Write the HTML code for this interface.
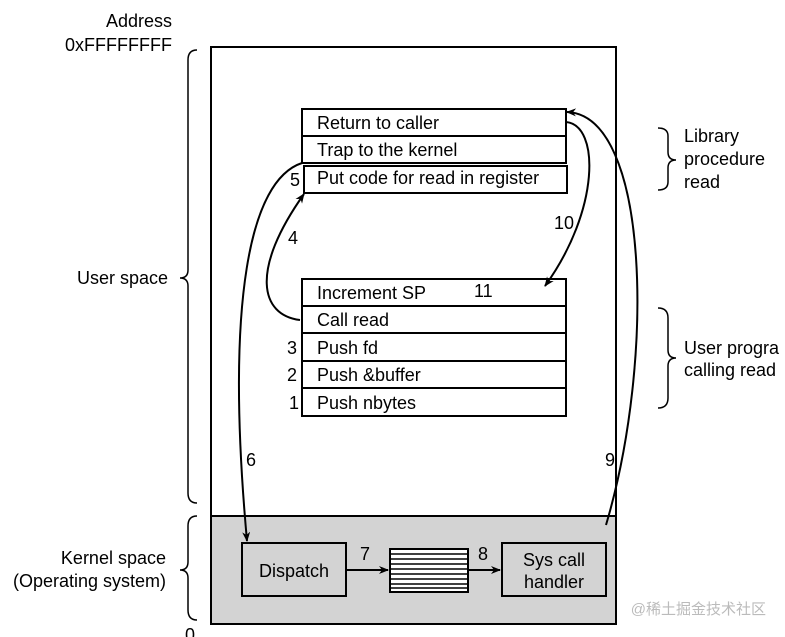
<!DOCTYPE html>
<html><head><meta charset="utf-8"><style>
body{margin:0;background:#fff}
svg{display:block;font-family:"Liberation Sans",Arial,sans-serif}
</style></head><body>
<svg width="785" height="637" viewBox="0 0 785 637" xmlns="http://www.w3.org/2000/svg">
<defs><marker id="a" markerWidth="10" markerHeight="8" refX="9" refY="4" orient="auto" markerUnits="userSpaceOnUse"><path d="M0,0 L10,4 L0,8 L3,4 Z" fill="#000"/></marker></defs>
<g font-size="18" fill="#000">
<text x="172" y="27" text-anchor="end">Address</text>
<text x="172" y="51" text-anchor="end">0xFFFFFFFF</text>
<text x="168" y="284" text-anchor="end">User space</text>
<text x="166" y="564" text-anchor="end">Kernel space</text>
<text x="166" y="587" text-anchor="end">(Operating system)</text>
<text x="185" y="641">0</text>
<text x="684" y="142">Library</text>
<text x="684" y="165">procedure</text>
<text x="684" y="188">read</text>
<text x="684" y="354">User progra</text>
<text x="684" y="376">calling read</text>
</g>
<g fill="none" stroke="#000" stroke-width="1.5">
<path d="M197,50 Q188,50 188,60 L188,270 Q188,278 180,278 Q188,278 188,286 L188,493 Q188,503 197,503"/>
<path d="M197,516 Q188,516 188,526 L188,562 Q188,570 180,570 Q188,570 188,578 L188,610 Q188,620 197,620"/>
<path d="M658,128 Q668,128 668,136 L668,152 Q668,160 676,160 Q668,160 668,168 L668,182 Q668,190 658,190"/>
<path d="M658,308 Q668,308 668,318 L668,350 Q668,358 676,358 Q668,358 668,366 L668,398 Q668,408 658,408"/>
</g>
<rect x="211" y="516" width="405" height="108" fill="#d3d3d3"/>
<rect x="211" y="47" width="405" height="577" fill="none" stroke="#000" stroke-width="2"/>
<line x1="211" y1="516" x2="616" y2="516" stroke="#000" stroke-width="2"/>
<g fill="#fff" stroke="#000" stroke-width="2">
<rect x="302" y="109" width="264" height="27"/>
<rect x="302" y="136" width="264" height="27"/>
<rect x="304" y="166" width="263" height="27"/>
<rect x="302" y="279" width="264" height="27"/>
<rect x="302" y="306" width="264" height="27"/>
<rect x="302" y="333" width="264" height="28"/>
<rect x="302" y="361" width="264" height="27"/>
<rect x="302" y="388" width="264" height="28"/>
</g>
<g font-size="18">
<text x="317" y="129">Return to caller</text>
<text x="317" y="156">Trap to the kernel</text>
<text x="317" y="184">Put code for read in register</text>
<text x="317" y="299">Increment SP</text>
<text x="317" y="326">Call read</text>
<text x="317" y="354">Push fd</text>
<text x="317" y="381">Push &amp;buffer</text>
<text x="317" y="409">Push nbytes</text>
<text x="290" y="186">5</text>
<text x="288" y="244">4</text>
<text x="287" y="354">3</text>
<text x="287" y="381">2</text>
<text x="289" y="409">1</text>
<text x="554" y="229">10</text>
<text x="474" y="297">11</text>
<text x="246" y="466">6</text>
<text x="605" y="466">9</text>
<text x="360" y="560">7</text>
<text x="478" y="560">8</text>
</g>
<g fill="none" stroke="#000" stroke-width="2">
<path d="M302,163 C250,180 225,300 247,541" marker-end="url(#a)"/>
<path d="M300,320 C260,315 250,270 304,194" marker-end="url(#a)"/>
<path d="M566,122 C600,125 600,210 545,286" marker-end="url(#a)"/>
<path d="M606,525 C655,360 650,115 567,112" marker-end="url(#a)"/>
<path d="M346,570 L388,570" marker-end="url(#a)"/>
<path d="M468,570 L500,570" marker-end="url(#a)"/>
</g>
<rect x="242" y="543" width="104" height="53" fill="#d3d3d3" stroke="#000" stroke-width="2"/>
<rect x="502" y="543" width="104" height="53" fill="#d3d3d3" stroke="#000" stroke-width="2"/>
<rect x="390" y="549" width="78" height="43" fill="#fff" stroke="#000" stroke-width="2"/>
<g stroke="#000" stroke-width="1.5">
<line x1="390" y1="554" x2="468" y2="554"/><line x1="390" y1="559" x2="468" y2="559"/>
<line x1="390" y1="564" x2="468" y2="564"/><line x1="390" y1="569" x2="468" y2="569"/>
<line x1="390" y1="574" x2="468" y2="574"/><line x1="390" y1="579" x2="468" y2="579"/>
<line x1="390" y1="584" x2="468" y2="584"/><line x1="390" y1="588" x2="468" y2="588"/>
</g>
<g font-size="18">
<text x="294" y="577" text-anchor="middle">Dispatch</text>
<text x="554" y="566" text-anchor="middle">Sys call</text>
<text x="554" y="588" text-anchor="middle">handler</text>
</g>
<text x="766" y="614" font-size="15" fill="#bbb" text-anchor="end" font-family="'Liberation Sans','Noto Sans CJK SC',sans-serif">@稀土掘金技术社区</text>
</svg>
</body></html>
